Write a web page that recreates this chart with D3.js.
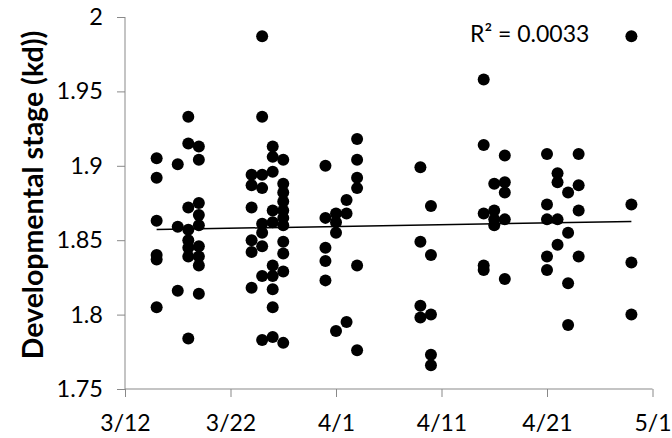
<!DOCTYPE html>
<html>
<head>
<meta charset="utf-8">
<script src="https://cdn.jsdelivr.net/npm/d3@7"></script>
<style>
  body { margin: 0; background: #fff; }
  svg { display: block; font-family: Lato, "Open Sans", sans-serif; }
</style>
</head>
<body>
<svg id="chart" width="672" height="438"></svg>
<script>
// sampling dates and the stage values measured on each of them
const sampleDates = ["3/15", "3/17", "3/18", "3/19", "3/24", "3/25", "3/26", "3/27",
  "3/31", "4/1", "4/2", "4/3", "4/9", "4/10", "4/15", "4/16", "4/17",
  "4/21", "4/22", "4/23", "4/24", "4/29"]

const stageValues = [
  [1.905, 1.892, 1.863, 1.840, 1.837, 1.805],
  [1.901, 1.859, 1.816],
  [1.933, 1.915, 1.872, 1.857, 1.850, 1.845, 1.839, 1.784],
  [1.913, 1.904, 1.875, 1.867, 1.860, 1.846, 1.839, 1.833, 1.814],
  [1.894, 1.887, 1.872, 1.850, 1.842, 1.818],
  [1.987, 1.933, 1.894, 1.885, 1.861, 1.855, 1.846, 1.826, 1.783],
  [1.913, 1.906, 1.896, 1.870, 1.862, 1.833, 1.826, 1.817, 1.805, 1.785],
  [1.904, 1.888, 1.882, 1.876, 1.870, 1.865, 1.860, 1.849, 1.841, 1.829, 1.781],
  [1.900, 1.865, 1.845, 1.836, 1.823],
  [1.868, 1.862, 1.855, 1.789],
  [1.877, 1.868, 1.795],
  [1.918, 1.904, 1.892, 1.885, 1.833, 1.776],
  [1.899, 1.849, 1.806, 1.798],
  [1.873, 1.840, 1.800, 1.773, 1.766],
  [1.958, 1.914, 1.868, 1.833, 1.830],
  [1.888, 1.870, 1.864, 1.860],
  [1.907, 1.889, 1.882, 1.864, 1.824],
  [1.908, 1.874, 1.864, 1.839, 1.830],
  [1.895, 1.889, 1.864, 1.847],
  [1.882, 1.855, 1.821, 1.793],
  [1.908, 1.887, 1.870, 1.839],
  [1.987, 1.874, 1.835, 1.800]
]

const xTicks = ["3/12", "3/22", "4/1", "4/11", "4/21", "5/1"]
const yTicks = [1.75, 1.8, 1.85, 1.9, 1.95, 2]
const r2Label = "R² = 0.0033"
const yTitle = "Developmental stage (kd))"

const parse = d3.timeParse("%m/%d")
const fmt = d3.timeFormat("%-m/%-d")

const points = []
sampleDates.forEach((d, i) => {
  stageValues[i].forEach(v => points.push({ date: parse(d), value: v }))
})

const svg = d3.select("#chart")

const x = d3.scaleTime()
  .domain([parse(xTicks[0]), parse(xTicks[xTicks.length - 1])])
  .range([125, 652.5])

const y = d3.scaleLinear()
  .domain([1.75, 2])
  .range([389, 17])

const axisColor = "#898989"

// y axis
const yAxis = svg.append("g")
  .attr("transform", "translate(125,0)")
  .call(d3.axisLeft(y).tickValues(yTicks).tickSize(8).tickPadding(14)
    .tickFormat(d3.format("")))
yAxis.select(".domain").attr("stroke", axisColor).attr("d", "M0,17V389")
yAxis.selectAll(".tick line").attr("stroke", axisColor)
yAxis.selectAll(".tick text")
  .attr("fill", "#000")
  .style("font-size", "23.5px")
  .style("font-family", "Lato")

// x axis
const xAxis = svg.append("g")
  .attr("transform", "translate(0,389)")
  .call(d3.axisBottom(x).tickValues(xTicks.map(parse)).tickSize(8).tickPadding(18)
    .tickFormat(fmt))
xAxis.select(".domain").attr("stroke", axisColor).attr("d", "M125,0H652.5")
xAxis.selectAll(".tick line").attr("stroke", axisColor)
xAxis.selectAll(".tick text")
  .attr("fill", "#000")
  .style("font-size", "23px")
  .style("font-family", "Lato")

// points
svg.append("g")
  .selectAll("circle")
  .data(points)
  .join("circle")
  .attr("cx", d => x(d.date))
  .attr("cy", d => y(d.value))
  .attr("r", 6)
  .attr("fill", "#000")

// linear trend (least squares on day number)
const t0 = parse(xTicks[0])
const days = points.map(p => (p.date - t0) / 864e5)
const vals = points.map(p => p.value)
const mx = d3.mean(days), my = d3.mean(vals)
const slope = d3.sum(days, (d, i) => (d - mx) * (vals[i] - my)) / d3.sum(days, d => (d - mx) ** 2)
const intercept = my - slope * mx
const [dMin, dMax] = d3.extent(points, p => p.date)
const trend = [dMin, dMax].map(d => ({ date: d, value: intercept + slope * (d - t0) / 864e5 }))

svg.append("path")
  .datum(trend)
  .attr("fill", "none")
  .attr("stroke", "#000")
  .attr("stroke-width", 1.5)
  .attr("d", d3.line().x(d => x(d.date)).y(d => y(d.value)))

svg.append("text")
  .attr("x", 470)
  .attr("y", 42)
  .style("font-size", "23px")
  .text(r2Label)

svg.append("text")
  .attr("transform", "translate(43,195) rotate(-90)")
  .attr("text-anchor", "middle")
  .style("font-size", "28.5px")
  .style("font-weight", "bold")
  .text(yTitle)
</script>
</body>
</html>
